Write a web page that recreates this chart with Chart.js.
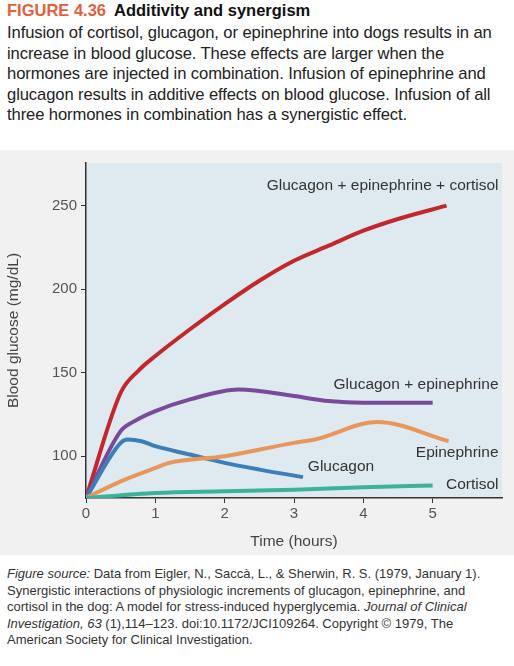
<!DOCTYPE html>
<html><head><meta charset="utf-8">
<script src="https://cdn.jsdelivr.net/npm/chart.js@4/dist/chart.umd.min.js"></script>
<style>
body{margin:0;width:514px;height:666px;background:#fff;font-family:"Liberation Sans",Arial,sans-serif;overflow:hidden}
.head{position:absolute;left:7px;top:1px;font-size:16.5px;font-weight:bold;color:#111}
.head span{color:#e2603b;margin-right:8px}
.intro{position:absolute;left:7px;top:23px;width:507px;font-size:16.6px;line-height:20.5px;color:#222;letter-spacing:-0.1px}
.panel{position:absolute;left:0;top:150px;width:514px;height:405px;background:#f1f1f1}
.src{position:absolute;left:7px;top:566px;width:500px;font-size:13px;line-height:16.5px;color:#333}
</style></head><body>
<div class="head"><span>FIGURE 4.36</span>Additivity and synergism</div>
<div class="intro">Infusion of cortisol, glucagon, or epinephrine into dogs results in an increase in blood glucose. These effects are larger when the hormones are injected in combination. Infusion of epinephrine and glucagon results in additive effects on blood glucose. Infusion of all three hormones in combination has a synergistic effect.</div>
<div class="panel"><canvas id="c" width="514" height="405"></canvas></div>
<div class="src"><i>Figure source:</i> Data from Eigler, N., Saccà, L., &amp; Sherwin, R. S. (1979, January 1). Synergistic interactions of physiologic increments of glucagon, epinephrine, and cortisol in the dog: A model for stress-induced hyperglycemia. <i>Journal of Clinical Investigation, 63</i> (1),114–123. doi:10.1172/JCI109264. Copyright © 1979, The American Society for Clinical Investigation.</div>
<script>
const allThreeT=[0,0.5,0.75,1,1.5,2,2.5,3,3.5,4,4.5,5.2];
const allThreeV=[75,138,151,160,176,191,205,217,226,235,242,250];
const glucEpiT=[0,0.5,0.7,1,1.5,2.2,3,3.5,4,5];
const glucEpiV=[75,115,121,127,134,140,136,133,132,132];
const glucagonT=[0,0.5,0.6,0.8,1,1.5,2,2.5,3.13];
const glucagonV=[75,108,110,109,106,101,96,92,87.5];
const epiT=[0,0.5,1,1.2,2,3,3.3,4.2,5.23];
const epiV=[75,85,93,96,100,108,110,120.5,109];
const cortisolT=[0,1,2,3,4,5];
const cortisolV=[75,78,79,80,81.5,82.5];
const xTicks=[0,1,2,3,4,5];
const yTicks=[100,150,200,250];
const labels=[
 {text:'Glucagon + epinephrine + cortisol',x:5.95,y:262,align:'right'},
 {text:'Glucagon + epinephrine',x:5.95,y:143,align:'right'},
 {text:'Epinephrine',x:5.95,y:102,align:'right'},
 {text:'Glucagon',x:3.2,y:94,align:'left'},
 {text:'Cortisol',x:5.95,y:83,align:'right'}
];
const pts=(t,v)=>t.map((x,i)=>({x:x,y:v[i]}));
const ds=(t,v,c)=>({data:pts(t,v),borderColor:c,borderWidth:4,pointRadius:0,showLine:true,cubicInterpolationMode:'monotone',fill:false});
const plotBg={id:'plotBg',beforeDraw(ch){const a=ch.chartArea,g=ch.ctx;g.save();g.fillStyle='#dfe9f0';g.fillRect(a.left,a.top,a.right-a.left,a.bottom-a.top);g.restore();}};
const lineLabels={id:'lineLabels',afterDatasetsDraw(ch){const g=ch.ctx,xs=ch.scales.x,ys=ch.scales.y;g.save();g.font='15.5px "Liberation Sans", Arial';g.fillStyle='#333';g.textBaseline='middle';
 labels.forEach(l=>{g.textAlign=l.align;g.fillText(l.text,xs.getPixelForValue(l.x),ys.getPixelForValue(l.y));});g.restore();}};
new Chart(document.getElementById('c'),{type:'scatter',
 data:{datasets:[ds(cortisolT,cortisolV,'#3bb39a'),ds(epiT,epiV,'#e8965a'),ds(glucagonT,glucagonV,'#3c7fb8'),ds(glucEpiT,glucEpiV,'#7a4a9a'),ds(allThreeT,allThreeV,'#c2272d')]},
 options:{responsive:false,animation:false,layout:{padding:{top:11,right:12}},
  plugins:{legend:{display:false},tooltip:{enabled:false}},
  scales:{
   x:{type:'linear',min:0,max:6,afterBuildTicks:s=>{s.ticks=xTicks.map(v=>({value:v}));},afterFit:s=>{s.height=57;},
    border:{color:'#333',width:1.5},grid:{drawOnChartArea:false,color:'#333',tickLength:5},
    ticks:{color:'#555',font:{size:15},padding:2},
    title:{display:true,text:'Time (hours)',color:'#444',font:{size:15.5}}},
   y:{min:75,max:275.5,afterBuildTicks:s=>{s.ticks=yTicks.map(v=>({value:v}));},afterFit:s=>{s.width=86;},
    border:{color:'#333',width:1.5},grid:{drawOnChartArea:false,color:'#333',tickLength:5},
    ticks:{color:'#555',font:{size:15},padding:4},
    title:{display:true,text:'Blood glucose (mg/dL)',color:'#444',font:{size:15.5}}}
  }},
 plugins:[plotBg,lineLabels]});
</script>
</body></html>
